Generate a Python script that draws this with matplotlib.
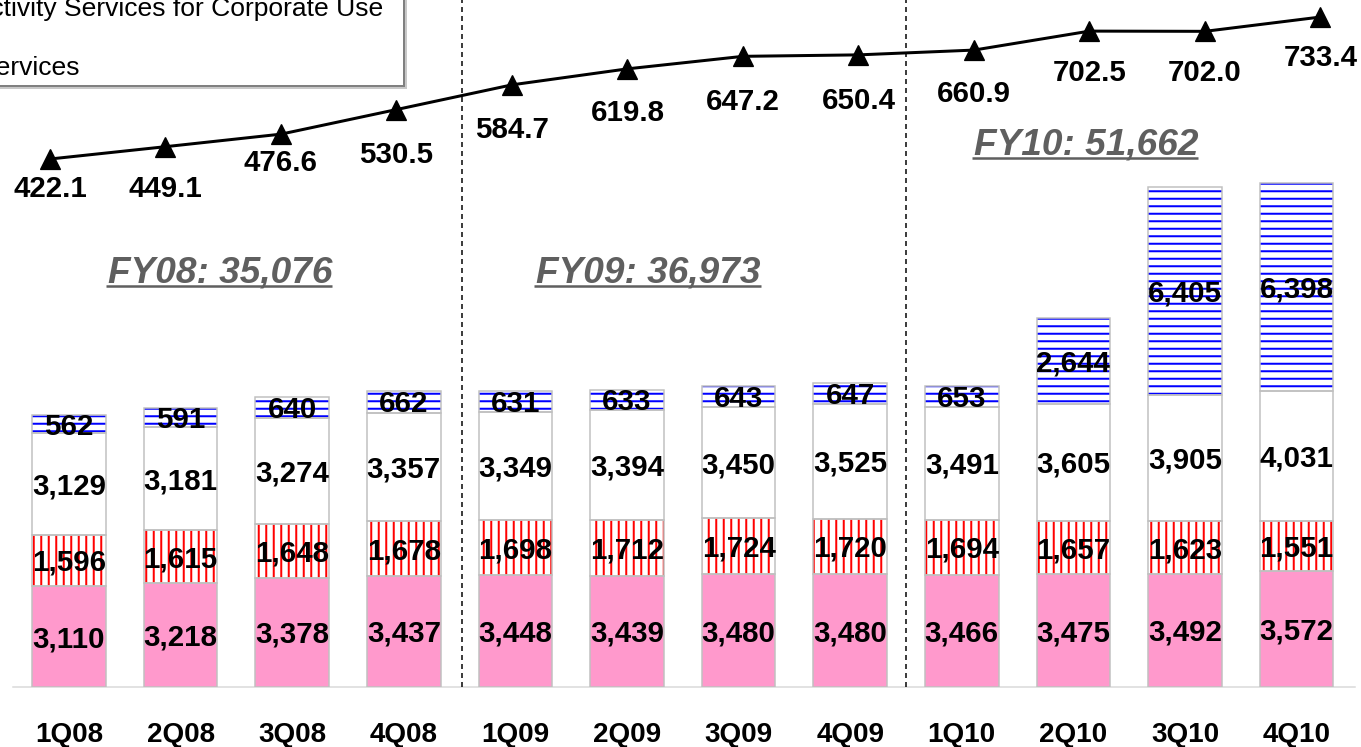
import matplotlib
matplotlib.use("Agg")
import matplotlib.pyplot as plt
from matplotlib.patches import Rectangle
from matplotlib.lines import Line2D
from matplotlib.transforms import IdentityTransform
import numpy as np

# ---------------- data ----------------
quarters = ["1Q08", "2Q08", "3Q08", "4Q08", "1Q09", "2Q09", "3Q09", "4Q09",
            "1Q10", "2Q10", "3Q10", "4Q10"]
seg_pink = [3110, 3218, 3378, 3437, 3448, 3439, 3480, 3480, 3466, 3475, 3492, 3572]
seg_red = [1596, 1615, 1648, 1678, 1698, 1712, 1724, 1720, 1694, 1657, 1623, 1551]
seg_white = [3129, 3181, 3274, 3357, 3349, 3394, 3450, 3525, 3491, 3605, 3905, 4031]
seg_blue = [562, 591, 640, 662, 631, 633, 643, 647, 653, 2644, 6405, 6398]
line_vals = [422.1, 449.1, 476.6, 530.5, 584.7, 619.8, 647.2, 650.4, 660.9,
             702.5, 702.0, 733.4]
fiscal_years = ["FY08", "FY09", "FY10"]
legend_lines = ["Connectivity Services for Corporate Use", "Services"]

# label offsets (pixels below marker centre) for the line labels
line_label_offsets = [28, 40, 26, 43, 43, 42, 43, 44, 41, 39, 39, 38]

# ---------------- figure ----------------
DPI = 90
W, H = 1361, 747
plt.rcParams["font.family"] = ["Liberation Sans", "DejaVu Sans"]
plt.rcParams["hatch.linewidth"] = 1.6
plt.rcParams["lines.scale_dashes"] = False
fig = plt.figure(figsize=(W / DPI, H / DPI), dpi=DPI)

LABEL_FS = 23.6
BASE = 687  # baseline pixel (from top)
ax = fig.add_axes([0, (H - BASE) / H, 1, BASE / H])
ax.set_xlim(-69 / 111.6, (W - 69) / 111.6)
ax.set_ylim(0, BASE / 0.03239)
ax.axis("off")

x = np.arange(len(quarters))
bottom = np.zeros(len(quarters))
segments = [
    (seg_pink, "#ff99cc", None, "none"),
    (seg_red, "white", "||", "#ff0000"),
    (seg_white, "white", None, "none"),
    (seg_blue, "white", "--", "#0000ff"),
]
for vals, face, hatch, hcol in segments:
    vals = np.array(vals, dtype=float)
    ax.bar(x, vals, width=0.66, bottom=bottom, facecolor=face, hatch=hatch,
           edgecolor=hcol, linewidth=0, zorder=2)
    ax.bar(x, vals, width=0.66, bottom=bottom, facecolor="none",
           edgecolor="#c0c0c0", linewidth=1.2, zorder=3)
    for i, v in enumerate(vals):
        ax.annotate(f"{int(v):,}", xy=(i, bottom[i] + v / 2), xytext=(0, -10.5),
                    textcoords="offset pixels", ha="center", va="baseline",
                    fontsize=LABEL_FS, fontweight="bold", color="black", zorder=5)
    bottom = bottom + vals

# baseline
ax.axhline(0, xmin=13 / W, xmax=1355 / W, color="#d9d9d9", lw=1.2,
           zorder=1, clip_on=False)

# category labels
for i, q in enumerate(quarters):
    ax.annotate(q, xy=(i, 0), xytext=(0, -55), textcoords="offset pixels",
                ha="center", va="baseline", fontsize=22.3, fontweight="bold",
                annotation_clip=False)

# fiscal-year separators
for xv in [3.52, 7.5]:
    ax.axvline(xv, ymin=0, ymax=1, color="black", lw=1.2,
               linestyle=(0, (4, 3.2)), zorder=1)

# ---------------- line overlay ----------------
lax = fig.add_axes([0, 0, 1, 1], facecolor="none")
lax.set_xlim(-50 / 115.5, (W - 50) / 115.5)
lax.set_ylim(422.1 - (H - 159) / 0.4561, 422.1 + 159 / 0.4561)
lax.axis("off")
lax.plot(x, line_vals, color="black", lw=2.4, marker="^", ms=15.5,
         markerfacecolor="black", markeredgecolor="black", zorder=4)
for i, v in enumerate(line_vals):
    lax.annotate(f"{v:.1f}", xy=(i, v), xytext=(0, -(line_label_offsets[i] + 10.5)),
                 textcoords="offset pixels", ha="center", va="baseline",
                 fontsize=LABEL_FS, fontweight="bold")

# ---------------- fiscal-year totals ----------------
totals = np.array(seg_pink) + np.array(seg_red) + np.array(seg_white) + np.array(seg_blue)
fy_totals = [int(totals[k * 4:(k + 1) * 4].sum()) for k in range(3)]
fy_pos = [(220, 282), (648.5, 282), (1086, 154)]  # centre x, baseline y (px from top)
fy_texts = []
for name, tot, (cx, by) in zip(fiscal_years, fy_totals, fy_pos):
    t = fig.text(cx / W, 1 - by / H, f"{name}: {tot:,}", ha="center", va="baseline",
                 fontsize=29.6, fontweight="bold", style="italic", color="#5f5f5f")
    fy_texts.append((t, by))

fig.canvas.draw()
renderer = fig.canvas.get_renderer()
for t, by in fy_texts:
    bb = t.get_window_extent(renderer)
    yline = H - (by + 3.5)
    fig.add_artist(Line2D([bb.x0 - 2, bb.x1], [yline, yline], color="#5f5f5f",
                          lw=2.0, transform=IdentityTransform(), solid_capstyle="butt"))

# ---------------- cropped legend box ----------------
shadow = Rectangle((-2, H - 89), 409, 120, facecolor="#c8c8c8", edgecolor="none",
                   transform=IdentityTransform(), zorder=6)
box = Rectangle((-5, H - 86), 409, 120, facecolor="white", edgecolor="#808080",
                lw=1.6, transform=IdentityTransform(), zorder=7)
fig.add_artist(shadow)
fig.add_artist(box)
fig.text(383 / W, 1 - 16 / H, legend_lines[0], ha="right", va="baseline",
         fontsize=21.2, color="black", zorder=8)
fig.text(80 / W, 1 - 75 / H, legend_lines[1], ha="right", va="baseline",
         fontsize=21.2, color="black", zorder=8)

fig.savefig("out.png", dpi=DPI)
